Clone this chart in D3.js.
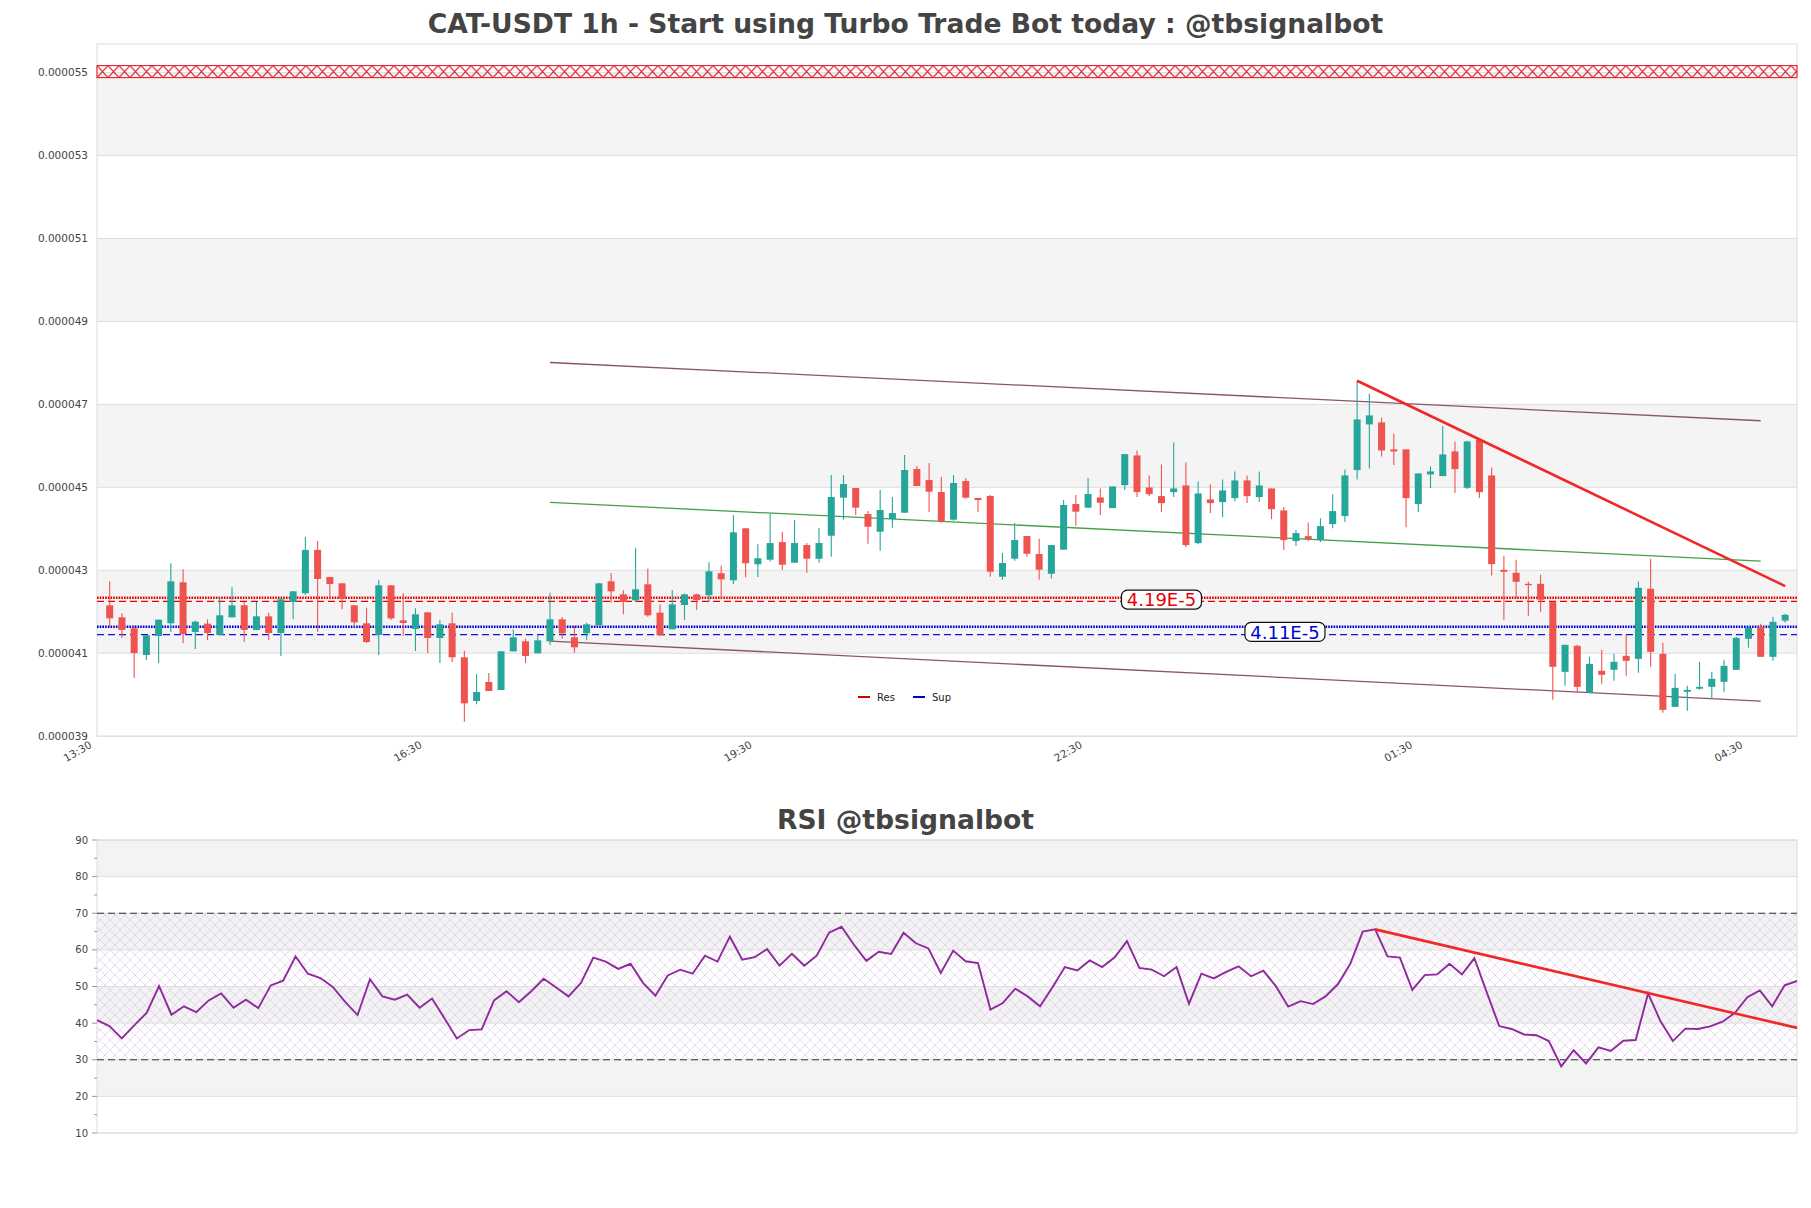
<!DOCTYPE html>
<html><head><meta charset="utf-8">
<script src="https://cdn.jsdelivr.net/npm/d3@7"></script>
<style>body{margin:0;background:#fff} svg{display:block}</style>
</head><body>
<svg id="c" width="1811" height="1208"></svg>
<script>
// ---------- DATA (prices in units of 1e-6 USDT) ----------
const UNIT = 1e-6;
const opens = [42.156,41.866,41.601,40.958,41.416,41.722,42.711,41.513,41.714,41.440,41.866,42.156,41.561,41.890,41.489,42.236,42.447,43.492,42.839,42.686,42.156,41.722,41.440,42.638,41.794,41.585,41.987,41.368,41.722,40.902,39.848,40.307,40.114,41.046,41.287,40.998,41.287,41.818,41.384,41.480,41.673,42.735,42.421,42.276,42.662,41.979,41.577,42.164,42.421,42.397,42.928,42.759,44.013,43.145,43.255,43.681,43.183,43.609,43.279,43.834,44.751,44.984,44.357,43.931,44.236,44.389,45.442,45.177,44.887,44.220,45.153,44.743,44.791,42.845,43.279,43.826,43.392,42.918,43.497,44.598,44.510,44.757,44.500,45.054,45.770,44.998,44.789,44.885,45.046,43.655,44.709,44.644,44.741,45.167,44.765,44.974,44.443,43.704,43.824,43.728,44.114,44.307,45.416,46.518,46.566,45.915,45.915,44.596,45.312,45.271,45.866,44.990,46.148,45.287,43.012,42.940,42.674,42.674,42.232,40.552,41.179,40.045,40.576,40.600,40.938,40.865,42.554,40.986,39.708,40.069,40.145,40.190,40.311,40.600,41.348,41.637,40.914,41.785];
const highs = [42.735,41.963,41.673,41.440,41.810,43.169,43.024,41.786,41.818,42.341,42.590,42.236,42.236,41.979,42.317,42.493,43.806,43.709,42.839,42.686,42.156,42.100,42.775,42.638,42.445,42.083,41.987,41.794,41.979,41.062,40.492,40.524,41.046,41.577,41.352,41.432,42.461,41.874,41.657,41.737,42.702,42.928,42.518,43.531,43.040,42.180,42.518,42.437,42.437,43.193,43.113,44.327,44.013,43.630,44.357,43.923,44.212,43.657,44.019,45.297,45.297,44.984,44.429,44.936,44.767,45.780,45.515,45.587,45.249,45.297,45.225,44.743,44.815,43.416,44.140,43.826,43.762,43.609,44.694,44.815,45.225,44.974,45.022,45.802,45.890,45.287,45.553,46.083,45.601,45.143,45.070,45.191,45.384,45.287,45.384,44.974,44.524,43.969,44.154,44.258,44.829,45.432,47.571,47.265,46.686,46.301,45.915,45.336,45.505,46.477,46.108,46.124,46.172,45.480,43.350,43.253,42.723,42.892,42.256,41.203,41.203,40.914,41.082,40.986,41.444,42.731,43.277,41.251,40.504,40.214,40.793,40.552,40.841,41.396,41.637,41.710,41.879,41.951];
const lows = [41.617,41.368,40.403,40.837,40.765,41.513,41.247,41.103,41.320,41.440,41.866,41.271,41.561,41.320,40.934,41.818,42.406,41.521,42.301,42.059,41.641,41.247,40.958,41.802,41.416,41.054,41.006,40.765,40.789,39.350,39.768,40.090,40.114,41.046,40.765,40.998,41.199,41.352,41.014,41.312,41.673,42.220,41.939,42.236,41.882,41.432,41.577,41.802,42.043,42.236,42.301,42.670,42.831,42.840,43.215,43.014,43.183,42.942,43.183,43.328,44.220,44.333,43.641,43.472,44.027,44.389,45.032,44.405,44.148,44.196,44.727,44.413,42.845,42.773,43.231,43.328,42.773,42.797,43.497,44.075,44.510,44.331,44.500,44.934,44.765,44.789,44.403,44.765,43.559,43.631,44.379,44.282,44.668,44.620,44.644,44.234,43.487,43.583,43.704,43.680,44.017,44.162,45.191,45.456,45.746,45.537,44.041,44.403,44.982,45.271,44.861,44.958,44.741,42.875,41.806,42.329,41.903,41.999,39.877,40.214,40.045,40.045,40.263,40.335,40.456,40.527,40.673,39.563,39.708,39.614,40.117,39.901,40.069,40.600,41.134,40.914,40.817,41.737];
const closes = [41.842,41.561,41.006,41.432,41.810,42.735,41.464,41.762,41.489,41.915,42.156,41.561,41.890,41.489,42.301,42.493,43.492,42.792,42.670,42.317,41.746,41.271,42.638,41.842,41.730,41.939,41.368,41.698,40.902,39.792,40.065,40.090,41.046,41.384,40.934,41.312,41.818,41.480,41.143,41.698,42.686,42.493,42.236,42.542,41.915,41.432,42.180,42.421,42.284,42.976,42.783,43.917,43.169,43.290,43.657,43.135,43.657,43.279,43.657,44.767,45.080,44.510,44.051,44.453,44.381,45.418,45.032,44.895,44.172,45.105,44.751,44.694,42.966,43.175,43.730,43.400,43.014,43.609,44.574,44.413,44.839,44.628,45.022,45.802,44.885,44.837,44.620,44.974,43.607,44.853,44.620,44.926,45.167,44.789,45.046,44.475,43.728,43.897,43.752,44.065,44.427,45.287,46.638,46.735,45.890,45.866,44.741,45.336,45.384,45.794,45.440,46.108,44.885,43.149,42.964,42.723,42.642,42.289,40.673,41.203,40.190,40.745,40.480,40.793,40.817,42.578,41.034,39.635,40.166,40.117,40.190,40.383,40.697,41.372,41.613,40.914,41.758,41.927];
const rsiValues = [40.8,39.2,35.8,39.4,42.8,50.1,42.3,44.6,43.0,46.2,48.1,44.2,46.4,44.1,50.3,51.6,58.2,53.5,52.3,49.9,45.8,42.2,52.0,47.3,46.4,47.8,44.2,46.7,41.3,35.8,38.1,38.3,46.2,48.7,45.7,48.7,52.1,49.7,47.3,51.0,57.9,56.8,54.8,56.2,51.0,47.5,53.0,54.6,53.5,58.4,56.8,63.6,57.3,58.0,60.2,55.7,58.9,55.7,58.4,64.7,66.3,61.4,57.0,59.5,58.9,64.7,61.8,60.4,53.7,59.8,56.9,56.4,43.7,45.5,49.4,47.3,44.6,49.8,55.3,54.4,57.1,55.3,57.9,62.4,55.1,54.6,52.8,55.3,45.3,53.5,52.2,54.0,55.5,52.8,54.3,50.1,44.5,46.0,45.2,47.3,50.6,56.2,65.0,65.6,58.2,57.9,49.1,53.1,53.3,56.2,53.3,57.7,48.4,39.2,38.4,36.9,36.7,35.1,28.2,32.6,29.0,33.4,32.4,35.2,35.4,48.1,40.5,35.1,38.5,38.4,39.1,40.4,42.8,47.1,48.9,44.6,50.3,51.5];

const xTickIndex = [-1, 26, 53, 80, 107, 134];
const xTickLabels = ["13:30", "16:30", "19:30", "22:30", "01:30", "04:30"];
const priceTicks = [39, 41, 43, 45, 47, 49, 51, 53, 55];
const rsiTicks = [10, 20, 30, 40, 50, 60, 70, 80, 90];

const resLevels = {dotted: 42.34, dashed: 42.25};
const supLevels = {dotted: 41.64, dashed: 41.45};
const resLabel = "4.19E-5", supLabel = "4.11E-5";
const topZone = [54.88, 55.17];
const channelUpper = [[36, 48.01], [135, 46.606]];
const channelLower = [[36, 41.292], [135, 39.844]];
const midLine = [[36, 44.637], [135, 43.221]];
const priceTrend = [[102, 47.57], [137, 42.62]];
const rsiTrend = [[103, 65.6], [137, 38.7]];

// ---------- LAYOUT ----------
const svg = d3.select('#c');
const FONT = "'DejaVu Sans', sans-serif";
const P = {l: 97, r: 1797, t: 44, b: 736.2};
const R = {l: 97, r: 1797, t: 840, b: 1133};
const UP = '#26a69a', DOWN = '#ef5350';

const x = d3.scaleLinear().domain([-1, 138.0]).range([97.47, 1797.4]);
const y = d3.scaleLinear().domain([39, 55.69]).range([P.b, P.t]);
const xr = d3.scaleLinear().domain([0, rsiValues.length - 1]).range([R.l, R.r]);
const yr = d3.scaleLinear().domain([10, 90]).range([R.b, R.t]);

const defs = svg.append('defs');
const zoneTop = y(topZone[1]), zoneBot = y(topZone[0]);
const hx = defs.append('pattern').attr('id', 'hx').attr('patternUnits', 'userSpaceOnUse')
  .attr('x', P.l).attr('y', zoneTop).attr('width', 11).attr('height', zoneBot - zoneTop);
hx.append('path').attr('d', `M0,0L11,${zoneBot - zoneTop}M11,0L0,${zoneBot - zoneTop}`)
  .attr('stroke', '#e3222a').attr('stroke-width', 1.1).attr('fill', 'none');
const hp = defs.append('pattern').attr('id', 'hp').attr('patternUnits', 'userSpaceOnUse')
  .attr('width', 10).attr('height', 10);
hp.append('path').attr('d', 'M0,0L10,10M10,0L0,10M-5,5L0,10M5,-5L15,5')
  .attr('stroke', '#d9c6e3').attr('stroke-width', 0.6).attr('fill', 'none');

// ---------- TITLES ----------
svg.append('text').attr('x', 905.5).attr('y', 32.5).attr('text-anchor', 'middle')
  .attr('font-family', FONT).attr('font-weight', 'bold').attr('font-size', 26.6).attr('fill', '#444')
  .text('CAT-USDT 1h - Start using Turbo Trade Bot today : @tbsignalbot');
svg.append('text').attr('x', 905.5).attr('y', 829).attr('text-anchor', 'middle')
  .attr('font-family', FONT).attr('font-weight', 'bold').attr('font-size', 26.6).attr('fill', '#444')
  .text('RSI @tbsignalbot');

// ---------- MAIN PANEL ----------
const g = svg.append('g');
for (let i = 0; i < priceTicks.length - 1; i++) {
  if (i % 2 === 1) {
    g.append('rect').attr('x', P.l).attr('width', P.r - P.l)
      .attr('y', y(priceTicks[i + 1])).attr('height', y(priceTicks[i]) - y(priceTicks[i + 1]))
      .attr('fill', '#f4f4f4');
  }
}
g.selectAll('.grid').data(priceTicks).join('line')
  .attr('x1', P.l).attr('x2', P.r).attr('y1', d => y(d)).attr('y2', d => y(d))
  .attr('stroke', '#dedede').attr('stroke-width', 1);
g.append('rect').attr('x', P.l).attr('y', P.t).attr('width', P.r - P.l).attr('height', P.b - P.t)
  .attr('fill', 'none').attr('stroke', '#dcdcdc');

g.append('rect').attr('x', P.l).attr('width', P.r - P.l).attr('y', zoneTop).attr('height', zoneBot - zoneTop)
  .attr('fill', 'url(#hx)').attr('stroke', '#e3222a').attr('stroke-width', 1.1);

g.selectAll('.yl').data(priceTicks).join('text')
  .attr('x', 88).attr('y', d => y(d)).attr('dy', '0.35em').attr('text-anchor', 'end')
  .attr('font-family', FONT).attr('font-size', 10.5).attr('fill', '#444')
  .text(d => d3.format('.6f')(d * UNIT));

g.selectAll('.xl').data(xTickIndex).join('text')
  .attr('transform', d => `translate(${x(d) - 5},747) rotate(-30)`)
  .attr('text-anchor', 'end').attr('font-family', FONT).attr('font-size', 10.5).attr('fill', '#444')
  .text((d, i) => xTickLabels[i]);

function hline(v, color, w, dash) {
  g.append('line').attr('x1', P.l).attr('x2', P.r).attr('y1', y(v)).attr('y2', y(v))
    .attr('stroke', color).attr('stroke-width', w).attr('stroke-dasharray', dash);
}
hline(resLevels.dotted, '#e60000', 2.6, '1.6,1.1');
hline(resLevels.dashed, '#e60000', 1.4, '7,4');
hline(supLevels.dotted, '#0000d8', 2.6, '1.6,1.1');
hline(supLevels.dashed, '#1010d8', 1.4, '7,4');

const seg = (pts, sx, sy) => d3.line().x(d => sx(d[0])).y(d => sy(d[1]))(pts);
g.append('path').attr('d', seg(channelUpper, x, y)).attr('stroke', '#8a5564').attr('stroke-width', 1.3).attr('fill', 'none');
g.append('path').attr('d', seg(channelLower, x, y)).attr('stroke', '#8a5564').attr('stroke-width', 1.3).attr('fill', 'none');
g.append('path').attr('d', seg(midLine, x, y)).attr('stroke', '#43a047').attr('stroke-width', 1.3).attr('fill', 'none');

const candles = opens.map((o, i) => ({i, o, h: highs[i], l: lows[i], c: closes[i]}));
const cg = g.append('g');
cg.selectAll('line').data(candles).join('line')
  .attr('x1', d => x(d.i)).attr('x2', d => x(d.i)).attr('y1', d => y(d.h)).attr('y2', d => y(d.l))
  .attr('stroke', d => d.c >= d.o ? UP : DOWN).attr('stroke-width', 1.1);
cg.selectAll('rect').data(candles).join('rect')
  .attr('x', d => x(d.i) - 3.5).attr('width', 7)
  .attr('y', d => y(Math.max(d.o, d.c)))
  .attr('height', d => Math.max(1.2, Math.abs(y(d.o) - y(d.c))))
  .attr('fill', d => d.c >= d.o ? UP : DOWN);

g.append('path').attr('d', seg(priceTrend, x, y)).attr('stroke', '#f02828').attr('stroke-width', 2.6).attr('fill', 'none');

function levelLabel(txt, idx, v, color) {
  const cx = x(idx), cy = y(v);
  g.append('rect').attr('x', cx - 40).attr('y', cy - 9.5).attr('width', 80).attr('height', 19)
    .attr('rx', 6).attr('fill', '#fff').attr('stroke', '#111').attr('stroke-width', 1.2);
  g.append('text').attr('x', cx).attr('y', cy).attr('dy', '0.37em').attr('text-anchor', 'middle')
    .attr('font-family', FONT).attr('font-size', 18).attr('fill', color).text(txt);
}
levelLabel(resLabel, 86.0, (resLevels.dotted + resLevels.dashed) / 2, '#e60000');
levelLabel(supLabel, 96.1, (supLevels.dotted + supLevels.dashed) / 2 - 0.03, '#0000d8');

const lg = g.append('g').attr('transform', 'translate(858,697)');
lg.append('line').attr('x1', 0).attr('x2', 12).attr('stroke', '#cc0000').attr('stroke-width', 2);
lg.append('text').attr('x', 19).attr('y', 0).attr('dy', '0.35em').attr('font-family', FONT).attr('font-size', 10).attr('fill', '#222').text('Res');
lg.append('line').attr('x1', 55).attr('x2', 67).attr('stroke', '#0000cc').attr('stroke-width', 2);
lg.append('text').attr('x', 74).attr('y', 0).attr('dy', '0.35em').attr('font-family', FONT).attr('font-size', 10).attr('fill', '#222').text('Sup');

// ---------- RSI PANEL ----------
const r = svg.append('g');
for (let i = 0; i < rsiTicks.length - 1; i++) {
  if (i % 2 === 1) {
    r.append('rect').attr('x', R.l).attr('width', R.r - R.l)
      .attr('y', yr(rsiTicks[i + 1])).attr('height', yr(rsiTicks[i]) - yr(rsiTicks[i + 1]))
      .attr('fill', '#f3f3f3');
  }
}
r.append('rect').attr('x', R.l).attr('width', R.r - R.l).attr('y', yr(70)).attr('height', yr(30) - yr(70))
  .attr('fill', 'url(#hp)');
r.selectAll('.grid').data(rsiTicks).join('line')
  .attr('x1', R.l).attr('x2', R.r).attr('y1', d => yr(d)).attr('y2', d => yr(d))
  .attr('stroke', '#dedede');
r.append('rect').attr('x', R.l).attr('y', R.t).attr('width', R.r - R.l).attr('height', R.b - R.t)
  .attr('fill', 'none').attr('stroke', '#dcdcdc');
[70, 30].forEach(v => r.append('line').attr('x1', R.l).attr('x2', R.r).attr('y1', yr(v)).attr('y2', yr(v))
  .attr('stroke', '#333').attr('stroke-width', 1.2).attr('stroke-dasharray', '7,4'));
const minor = d3.range(15, 90, 10);
r.selectAll('.mt').data(minor).join('line').attr('x1', R.l - 3).attr('x2', R.l).attr('y1', d => yr(d)).attr('y2', d => yr(d)).attr('stroke', '#999');
r.selectAll('.Mt').data(rsiTicks).join('line').attr('x1', R.l - 5).attr('x2', R.l).attr('y1', d => yr(d)).attr('y2', d => yr(d)).attr('stroke', '#999');
r.selectAll('.rl').data(rsiTicks).join('text')
  .attr('x', 88).attr('y', d => yr(d)).attr('dy', '0.35em').attr('text-anchor', 'end')
  .attr('font-family', FONT).attr('font-size', 10).attr('fill', '#444').text(d => d);
r.append('path').attr('d', d3.line().x((d, i) => xr(i)).y(d => yr(d))(rsiValues))
  .attr('fill', 'none').attr('stroke', '#8e2a9c').attr('stroke-width', 1.9);
r.append('path').attr('d', seg(rsiTrend, xr, yr)).attr('stroke', '#f02828').attr('stroke-width', 2.6).attr('fill', 'none');
</script>
</body></html>
